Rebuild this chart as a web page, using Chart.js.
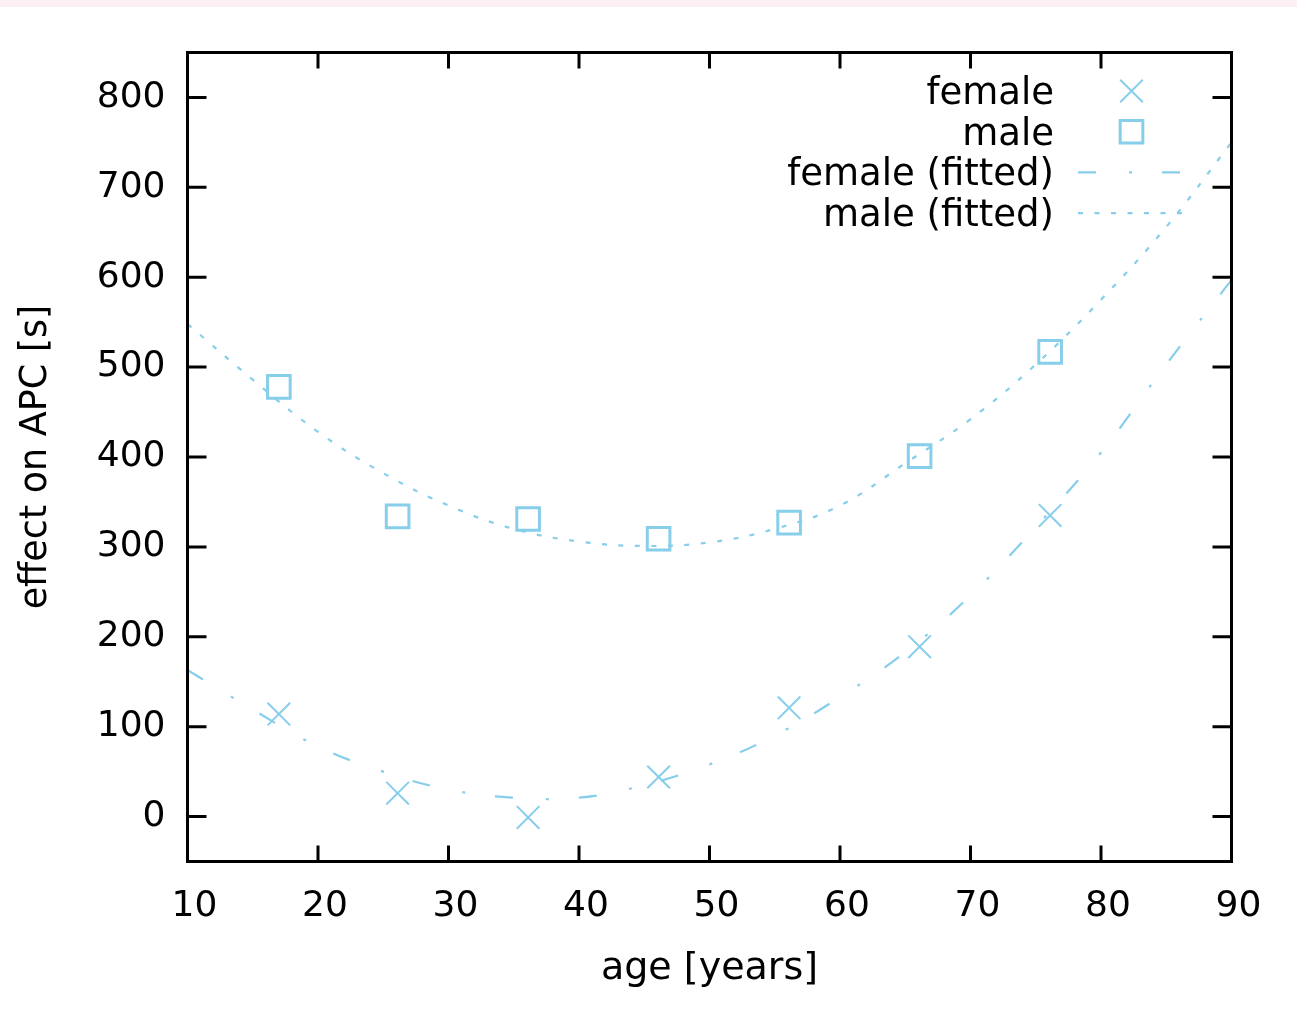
<!DOCTYPE html>
<html><head><meta charset="utf-8">
<script src="https://cdn.jsdelivr.net/npm/chart.js@4.4.1/dist/chart.umd.min.js"></script>
<style>html,body{margin:0;padding:0;background:#fff;overflow:hidden}#wrap{width:1297px;height:1023px;position:relative}</style>
</head><body><div id="wrap"><canvas id="c" width="1297" height="1023"></canvas></div>
<script>
const AGES = [17, 26.1, 36.1, 46.1, 56.1, 66.1, 76.1];
const FEMALE = [114, 26, -1, 44, 121, 189, 335];
const MALE = [478, 334, 331, 309, 327, 401, 517];
const FIT_AGES = [10, 15, 20, 25, 30, 35, 40, 45, 50, 55, 60, 65, 70, 75, 80, 85, 90];
const FEMALE_FIT = [163, 119, 78, 50, 30, 21, 21, 35, 58, 90, 133, 183, 246, 322, 405, 503, 597];
const MALE_FIT = [548, 486, 428, 382, 346, 320, 306, 301, 305, 320, 346, 393, 442, 503, 575, 656, 750];
const X_TICKS = [10, 20, 30, 40, 50, 60, 70, 80, 90];
const Y_TICKS = [0, 100, 200, 300, 400, 500, 600, 700, 800];
const SERIES_NAMES = ['female', 'male', 'female (fitted)', 'male (fitted)'];
const X_TITLE = 'age [years]';
const Y_TITLE = 'effect on APC [s]';

const COLOR = 'rgb(135,206,235)';
const FONT = '"DejaVu Sans", Verdana, sans-serif';
Chart.defaults.font.family = FONT;
Chart.defaults.font.size = 36;
Chart.defaults.color = '#000';

const pts = (xs, ys) => xs.map((x, i) => ({x, y: ys[i]}));

const framePlugin = {
  id: 'frame',
  beforeDraw(chart) {
    const ctx = chart.ctx;
    ctx.save();
    ctx.fillStyle = 'rgb(253,240,244)';
    ctx.fillRect(0, 0, chart.width, 7);
    ctx.restore();
  },
  afterDraw(chart) {
    const ctx = chart.ctx, a = chart.chartArea;
    const xs = chart.scales.x, ys = chart.scales.y;
    ctx.save();
    ctx.strokeStyle = '#000';
    ctx.lineWidth = 3;
    ctx.setLineDash([]);
    ctx.strokeRect(a.left, a.top, a.right - a.left, a.bottom - a.top);
    ctx.beginPath();
    xs.ticks.forEach(t => {
      const p = xs.getPixelForValue(t.value);
      ctx.moveTo(p, a.bottom); ctx.lineTo(p, a.bottom - 16);
      ctx.moveTo(p, a.top); ctx.lineTo(p, a.top + 16);
    });
    ys.ticks.forEach(t => {
      const p = ys.getPixelForValue(t.value);
      ctx.moveTo(a.left, p); ctx.lineTo(a.left + 19, p);
      ctx.moveTo(a.right, p); ctx.lineTo(a.right - 19, p);
    });
    ctx.stroke();

    // legend
    ctx.font = '37px ' + FONT;
    ctx.textAlign = 'right';
    ctx.textBaseline = 'alphabetic';
    chart.data.datasets.forEach((ds, i) => {
      const base = 104 + i * 40.7;
      const cy = base - 13;
      ctx.fillStyle = '#000';
      ctx.fillText(ds.label, 1054, base);
      ctx.strokeStyle = ds.borderColor;
      if (ds.showLine) {
        ctx.lineWidth = ds.borderWidth;
        ctx.setLineDash(ds.borderDash);
        ctx.beginPath();
        ctx.moveTo(1078, cy); ctx.lineTo(1184, cy);
        ctx.stroke();
        ctx.setLineDash([]);
      } else {
        ctx.fillStyle = 'rgba(0,0,0,0)';
        ctx.lineWidth = ds.pointBorderWidth;
        Chart.helpers.drawPoint(ctx, {pointStyle: ds.pointStyle, radius: ds.pointRadius, borderWidth: ds.pointBorderWidth, rotation: 0}, 1131.5, cy);
      }
    });
    ctx.restore();
  }
};

new Chart(document.getElementById('c'), {
  type: 'scatter',
  data: {
    datasets: [
      {label: SERIES_NAMES[0], data: pts(AGES, FEMALE), showLine: false, pointStyle: 'crossRot', pointRadius: 16, pointBorderWidth: 2, borderColor: COLOR, backgroundColor: 'rgba(0,0,0,0)'},
      {label: SERIES_NAMES[1], data: pts(AGES, MALE), showLine: false, pointStyle: 'rect', pointRadius: 16, pointBorderWidth: 3, borderColor: COLOR, backgroundColor: 'rgba(0,0,0,0)'},
      {label: SERIES_NAMES[2], data: pts(FIT_AGES, FEMALE_FIT), showLine: true, pointRadius: 0, borderWidth: 2.2, borderColor: COLOR, borderDash: [18, 33, 3, 30], tension: 0.4, backgroundColor: 'rgba(0,0,0,0)'},
      {label: SERIES_NAMES[3], data: pts(FIT_AGES, MALE_FIT), showLine: true, pointRadius: 0, borderWidth: 2.2, borderColor: COLOR, borderDash: [5, 11.5], tension: 0.4, backgroundColor: 'rgba(0,0,0,0)'}
    ]
  },
  options: {
    responsive: false,
    animation: false,
    events: [],
    layout: {padding: {left: 0, right: 65.5, top: 52.5, bottom: 0}},
    plugins: {legend: {display: false}, tooltip: {enabled: false}},
    scales: {
      x: {
        type: 'linear', min: 10, max: 90,
        afterBuildTicks: s => { s.ticks = X_TICKS.map(v => ({value: v})); },
        afterFit: s => { s.height = 161.5; },
        grid: {display: false, drawTicks: false},
        border: {display: false},
        ticks: {padding: 24, labelOffset: 7, maxRotation: 0, autoSkip: false, font: {size: 36}},
        title: {display: true, text: X_TITLE, padding: {top: 0, bottom: 31}, font: {size: 38}}
      },
      y: {
        type: 'linear', min: -50, max: 850,
        afterBuildTicks: s => { s.ticks = Y_TICKS.map(v => ({value: v})); },
        afterFit: s => { s.width = 187.5; },
        grid: {display: false, drawTicks: false},
        border: {display: false},
        ticks: {padding: 22, autoSkip: false, font: {size: 36}},
        title: {display: true, text: Y_TITLE, padding: {top: 14.5, bottom: 0}, font: {size: 36.5}}
      }
    }
  },
  plugins: [framePlugin]
});
</script></body></html>
